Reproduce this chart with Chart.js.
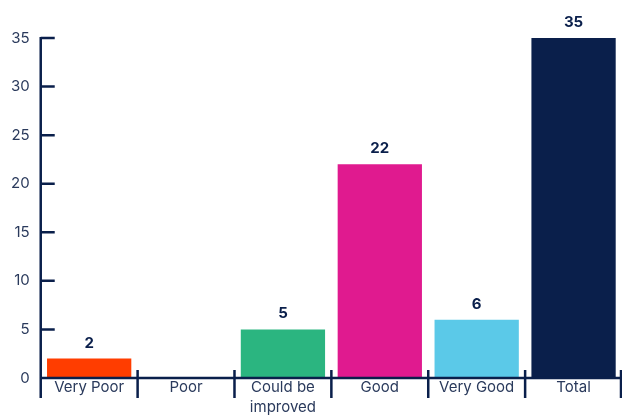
<!DOCTYPE html>
<html>
<head>
<meta charset="utf-8">
<script src="https://cdn.jsdelivr.net/npm/chart.js@4.4.0/dist/chart.umd.min.js"></script>
<style>
  html, body { margin: 0; padding: 0; background: #fff; }
  #wrap { width: 622px; height: 417px; }
</style>
</head>
<body>
<div id="wrap"><canvas id="chart" width="622" height="417"></canvas></div>
<script>
const categories = ['Very Poor', 'Poor', ['Could be', 'improved'], 'Good', 'Very Good', 'Total'];
const counts = [2, 0, 5, 22, 6, 35];
const barColors = ['#ff3d00', '#ff3d00', '#2bb580', '#e01a8f', '#5bc9e8', '#0a1f4b'];
const yTicks = [0, 5, 10, 15, 20, 25, 30, 35];

const navy = '#0a1f4b';
const fontFamily = 'Inter, "Noto Sans", sans-serif';

// axes with inward ticks, drawn from the chart's own scales
const axisPlugin = {
    id: 'axisLines',
    afterDatasetsDraw(chart) {
        const ctx = chart.ctx;
        const x = chart.scales.x;
        const y = chart.scales.y;
        const area = chart.chartArea;
        const y0 = y.getPixelForValue(0);
        ctx.save();
        ctx.strokeStyle = navy;
        ctx.lineWidth = 2.5;
        ctx.lineCap = 'butt';
        ctx.beginPath();
        // y axis line
        ctx.moveTo(area.left, y.getPixelForValue(35) - 1);
        ctx.lineTo(area.left, y0 + 20);
        // x axis line
        ctx.moveTo(area.left, y0);
        ctx.lineTo(area.right, y0);
        yTicks.forEach(v => {
            const py = y.getPixelForValue(v);
            ctx.moveTo(area.left, py);
            ctx.lineTo(area.left + 14, py);
        });
        for (let i = 0; i <= categories.length; i++) {
            const px = i === 0 ? area.left : (i === categories.length ? area.right - 1 : (x.getPixelForValue(i - 1) + x.getPixelForValue(i)) / 2);
            ctx.moveTo(px, y0 - 8);
            ctx.lineTo(px, y0 + 20);
        }
        ctx.stroke();

        // value labels
        ctx.fillStyle = navy;
        ctx.font = 'bold 15px ' + fontFamily;
        ctx.textAlign = 'center';
        ctx.textBaseline = 'bottom';
        chart.getDatasetMeta(0).data.forEach((bar, i) => {
            if (counts[i] > 0) ctx.fillText(String(counts[i]), bar.x, bar.y - 8);
        });
        ctx.restore();
    }
};

new Chart(document.getElementById('chart'), {
    type: 'bar',
    data: {
        labels: categories,
        datasets: [{
            data: counts,
            backgroundColor: barColors,
            borderWidth: 0,
            barPercentage: 0.87,
            categoryPercentage: 1
        }]
    },
    options: {
        responsive: false,
        animation: false,
        layout: { padding: { top: 38, right: 0, left: 0, bottom: 0 } },
        plugins: { legend: { display: false }, tooltip: { enabled: false } },
        scales: {
            x: {
                offset: true,
                grid: { display: false, drawTicks: false },
                border: { display: false },
                ticks: {
                    color: '#2a3a5c',
                    font: { family: fontFamily, size: 15, lineHeight: 1.3 },
                    padding: 0,
                    maxRotation: 0,
                    autoSkip: false
                }
            },
            y: {
                min: 0,
                max: 35,
                afterBuildTicks: (scale) => { scale.ticks = yTicks.map(v => ({ value: v })); },
                grid: { display: false, drawTicks: false },
                border: { display: false },
                ticks: {
                    color: '#2a3a5c',
                    font: { family: fontFamily, size: 15 },
                    padding: 11
                }
            }
        }
    },
    plugins: [axisPlugin]
});
</script>
</body>
</html>
